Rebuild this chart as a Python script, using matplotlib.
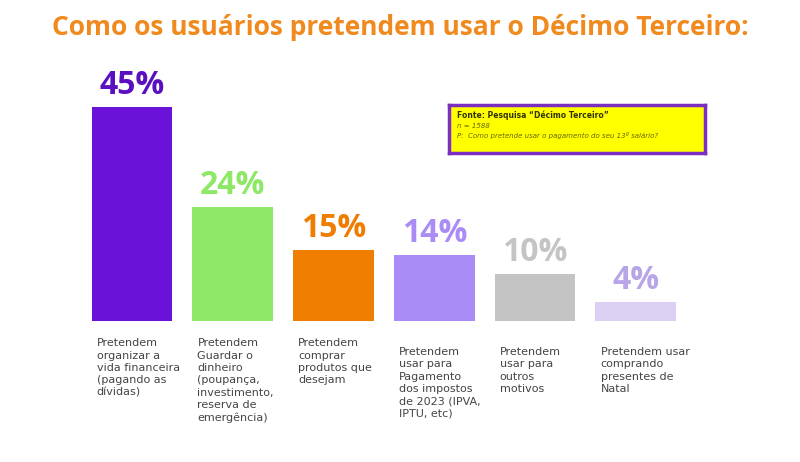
import matplotlib.pyplot as plt

values = [45, 24, 15, 14, 10, 4]
labels_pct = ["45%", "24%", "15%", "14%", "10%", "4%"]
descriptions = [
    "Pretendem\norganizar a\nvida financeira\n(pagando as\ndívidas)",
    "Pretendem\nGuardar o\ndinheiro\n(poupança,\ninvestimento,\nreserva de\nemergência)",
    "Pretendem\ncomprar\nprodutos que\ndesejam",
    "Pretendem\nusar para\nPagamento\ndos impostos\nde 2023 (IPVA,\nIPTU, etc)",
    "Pretendem\nusar para\noutros\nmotivos",
    "Pretendem usar\ncomprando\npresentes de\nNatal",
]
desc_offsets = [0, 0, 0, 1, 1, 1]
colors = ["#6B12D9", "#8DE866", "#EF7D00", "#A98CF6", "#C4C4C4", "#DCD0F2"]
label_colors = ["#5B10C0", "#8DE866", "#EF7D00", "#A98CF6", "#C4C4C4", "#B7A5E8"]

fig = plt.figure(figsize=(8, 4.62), dpi=100)
ax = fig.add_axes([0, 0.305, 1, 0.463])
x = list(range(len(values)))
ax.bar(x, values, width=0.8, color=colors)
ax.set_xlim(-1.31, 6.63)
ax.set_ylim(0, 45)
ax.axis("off")
for i, v in enumerate(values):
    ax.text(i, v + 1.0, labels_pct[i], ha="center", va="bottom", fontsize=23,
            fontweight="bold", color=label_colors[i], family="Open Sans")
    ax.text(i - 0.35, -3.6 - desc_offsets[i] * 1.8, descriptions[i], ha="left", va="top",
            fontsize=8, color="#444444", linespacing=1.3, clip_on=False)

fig.text(0.5, 0.94, "Como os usuários pretendem usar o Décimo Terceiro:", ha="center",
         va="center", fontsize=19, fontweight="bold", color="#F08A1E", family="Open Sans")

bx = fig.add_axes([449/800, 1 - 153/462, 256/800, 48/462])
bx.set_xticks([]); bx.set_yticks([])
bx.set_facecolor("#FFFF00")
for s in bx.spines.values():
    s.set_color("#7A2FC0"); s.set_linewidth(2.5)
bx.text(0.03, 0.78, "Fonte: Pesquisa “Décimo Terceiro”", fontsize=5.5, fontweight="bold",
        color="#333300", transform=bx.transAxes, va="center")
bx.text(0.03, 0.56, "n = 1588", fontsize=5, style="italic", color="#666600",
        transform=bx.transAxes, va="center")
bx.text(0.03, 0.36, "P:  Como pretende usar o pagamento do seu 13º salário?", fontsize=5,
        style="italic", color="#666600", transform=bx.transAxes, va="center")

fig.savefig("out.png", dpi=100, facecolor="white")
